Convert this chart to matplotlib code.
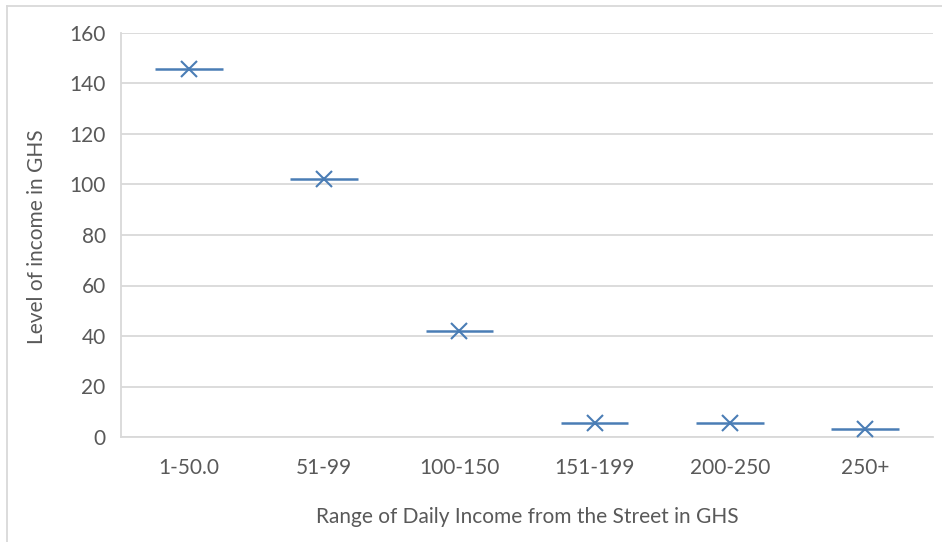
import matplotlib
matplotlib.use("Agg")
import matplotlib.pyplot as plt
from matplotlib.lines import Line2D
import numpy as np

categories = ["1-50.0", "51-99", "100-150", "151-199", "200-250", "250+"]
income_levels = [145.7, 102.1, 42.1, 5.7, 5.7, 3.2]
y_ticks = [0, 20, 40, 60, 80, 100, 120, 140, 160]

plt.rcParams["font.family"] = ["Lato", "DejaVu Sans"]
text_gray = "#595959"
grid_gray = "#d9d9d9"
series_blue = "#4a7db5"
font_size = 15

fig = plt.figure(figsize=(9.42, 5.42), dpi=100)
ax = fig.add_axes([121 / 942, 1 - 437 / 542, (933 - 121) / 942, (437 - 33) / 542])

x = np.arange(len(categories))
# horizontal bar through each point, half a category wide
ax.hlines(income_levels, x - 0.25, x + 0.25, color=series_blue, linewidth=1.8, zorder=3)
ax.plot(x, income_levels, linestyle="none", marker="x", markersize=12,
        markeredgewidth=1.5, color=series_blue, zorder=4)

ax.set_xlim(-0.5, len(categories) - 0.5)
ax.set_ylim(0, 160)
ax.set_yticks(y_ticks)
ax.set_xticks(x)
ax.set_xticklabels(categories)
ax.yaxis.grid(True, color=grid_gray, linewidth=1.3)
ax.set_axisbelow(True)

for side in ["top", "right"]:
    ax.spines[side].set_visible(False)
for side in ["left", "bottom"]:
    ax.spines[side].set_color(grid_gray)
    ax.spines[side].set_linewidth(1.3)

ax.tick_params(axis="both", length=0, labelsize=font_size, labelcolor=text_gray)
ax.tick_params(axis="y", pad=11)
ax.tick_params(axis="x", pad=15)

fig.text(37 / 942, 1 - 237 / 542, "Level of income in GHS", rotation=90,
         ha="center", va="center", fontsize=font_size, color=text_gray)
fig.text(527 / 942, 1 - 517 / 542, "Range of Daily Income from the Street in GHS",
         ha="center", va="center", fontsize=font_size, color=text_gray)

# light frame around the chart area
fig.add_artist(Line2D([7 / 942, 7 / 942], [0, 1 - 6 / 542], color=grid_gray,
                      linewidth=1.3, transform=fig.transFigure))
fig.add_artist(Line2D([7 / 942, 1], [1 - 6 / 542, 1 - 6 / 542], color=grid_gray,
                      linewidth=1.3, transform=fig.transFigure))

fig.savefig("out.png", dpi=100)
